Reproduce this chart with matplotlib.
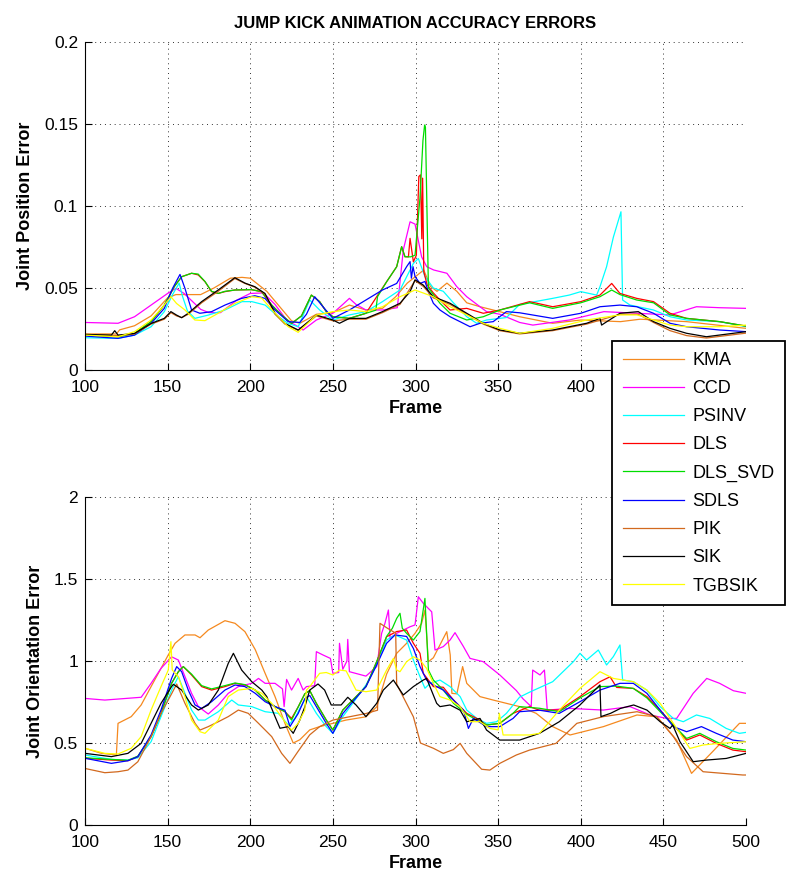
import matplotlib
matplotlib.use('Agg')
import matplotlib.pyplot as plt
from matplotlib import font_manager

# fuentes: intento la version "narrow" si esta instalada
nombres = set(f.name for f in font_manager.fontManager.ttflist)
fuente = 'Liberation Sans Narrow' if 'Liberation Sans Narrow' in nombres else 'Liberation Sans'
plt.rcParams['font.family'] = [fuente, 'DejaVu Sans']

""" 1. Datos: (frame, valor) leidos del grafico """
series = ['KMA', 'CCD', 'PSINV', 'DLS', 'DLS_SVD', 'SDLS', 'PIK', 'SIK', 'TGBSIK']
colores = ['#F5891F', '#FF00FF', '#00FFFF', '#FF0000', '#00DD00', '#0000FF', '#D2691E', '#000000', '#FFFF00']

x_ticks = [100, 150, 200, 250, 300, 350, 400, 450, 500]
y_ticks_pos = [0, 0.05, 0.1, 0.15, 0.2]
y_labels_pos = ['0', '0.05', '0.1', '0.15', '0.2']
y_ticks_ori = [0, 0.5, 1, 1.5, 2]
y_labels_ori = ['0', '0.5', '1', '1.5', '2']

# --- error de posicion ---
pos_kma = [(100,.022),(110,.022),(119,.022),(121,.0245),(130,.027),(140,.033),(150,.044),(155,.046),(160,.046),(170,.046),
           (178,.050),(188,.056),(195,.0565),(200,.056),(205,.052),(210,.048),(220,.036),(225,.030),(230,.0285),(240,.034),
           (250,.035),(260,.0396),(270,.0366),(280,.0376),(288,.0447),(295,.053),(300,.057),(305,.061),(309,.051),(313,.048),
           (319,.053),(325,.048),(331,.041),(339,.0386),(347,.0366),(363,.0325),(383,.0285),(400,.0305),(424,.0295),(436,.031),
           (464,.0295),(500,.0254)]
pos_ccd = [(100,.029),(120,.0285),(130,.0325),(140,.0396),(150,.0467),(155,.0498),(160,.0467),(170,.037),(175,.035),(182,.035),
           (192,.0427),(200,.0467),(208,.047),(215,.040),(222,.0305),(228,.027),(232,.0244),(240,.0305),(250,.0346),(256,.040),
           (260,.0437),(264,.040),(270,.0366),(280,.0366),(289,.038),(292.6,.0732),(296.7,.0904),(299.7,.089),(303.7,.069),
           (306.8,.063),(311,.061),(319,.059),(325,.0508),(331,.0447),(339,.0386),(343,.0356),(351,.034),(363,.029),(371,.0274),
           (393,.0305),(414,.0356),(434,.0346),(454,.0336),(470,.0386),(484,.038),(500,.0376)]
pos_psinv = [(100,.0197),(120,.0193),(130,.0213),(140,.0264),(148,.0356),(153,.046),(157,.053),(159,.045),(162,.036),(166.5,.0315),
             (174.6,.0335),(184.7,.0366),(195,.0417),(201,.0417),(209,.0396),(217,.0325),(223,.0284),(229,.0264),(231,.031),
             (236,.0427),(242,.0366),(250,.0305),(260,.0336),(270,.0356),(280,.0417),(290.6,.0488),(298.7,.065),(301.7,.068),
             (305.7,.057),(310.8,.050),(316.8,.048),(322.9,.041),(331,.0325),(337,.0285),(343,.0305),(355,.032),(363,.040),
             (383,.0437),(393,.0457),(400,.0478),(409.6,.0457),(411.6,.0508),(415.6,.063),(419.7,.081),(424.3,.0965),
             (425.3,.0427),(429.8,.0396),(444,.0366),(454,.0325),(464,.0305),(484,.0295),(500,.0264)]
pos_dls = [(100,.0213),(120,.0203),(130,.0223),(140,.0295),(148,.0396),(154,.0508),(158.5,.0569),(164.5,.059),(168.5,.058),
           (172.6,.0539),(176.6,.0478),(180.6,.0467),(184.7,.0478),(190.7,.0488),(200.8,.049),(206.8,.0478),(213,.0396),
           (219,.0335),(225,.0284),(231,.033),(237,.0457),(242,.0417),(246,.0356),(250,.0325),(260,.0315),(270,.0346),
           (276.5,.0447),(282.5,.0538),(288.6,.063),(291.6,.0752),(293.6,.0691),(295.7,.069),(296.7,.0803),(298.7,.066),
           (300.5,.070),(302,.118),(303,.119),(303.8,.080),(304.3,.117),(305,.060),(307,.052),(310.8,.047),(314.8,.0427),
           (320.9,.0366),(331,.0376),(341,.0346),(351,.0366),(369,.0417),(383,.0386),(400,.0417),(411.6,.0457),(418.7,.0528),
           (423.7,.0467),(433.8,.0437),(444,.0417),(454,.0346),(464,.0315),(484,.0295),(500,.0268)]
pos_svd = [(100,.0213),(120,.0203),(130,.0223),(140,.0295),(148,.0396),(154,.0508),(158.5,.0569),(164.5,.059),(168.5,.0585),
           (172.6,.054),(176.6,.048),(180.6,.0467),(184.7,.048),(190.7,.0488),(200.8,.049),(206.8,.0478),(213,.0396),
           (219,.0335),(225,.0284),(231,.033),(237,.0457),(242,.0417),(246,.0356),(250,.0325),(260,.0315),(270,.0346),
           (276,.0365),(277,.0447),(282.5,.0538),(288.6,.063),(291.6,.0752),(293.6,.0691),(297,.069),(299.7,.070),
           (302.7,.105),(304.5,.140),(305.5,.1494),(306,.148),(307.8,.050),(314.8,.0407),(320.9,.0346),(331,.0305),
           (341,.0325),(351,.0366),(369,.041),(383,.0376),(400,.041),(411.6,.0447),(418.7,.0488),(423.7,.046),
           (433.8,.0427),(444,.041),(454,.0336),(464,.0315),(484,.0295),(500,.0268)]
pos_sdls = [(100,.0207),(120,.0193),(130,.0213),(140,.0284),(148,.0376),(153,.0498),(157.5,.0583),(160.5,.0498),(164.5,.0366),
            (169.5,.0346),(176.6,.0356),(184.7,.0396),(194.8,.0437),(202.8,.0453),(208.9,.0437),(215,.0366),(223,.0295),
            (230,.029),(234,.034),(239,.0447),(244,.0386),(250,.0315),(260,.0366),(270,.0427),(280,.0488),(288.6,.0528),
            (294.6,.063),(296.7,.0661),(297.5,.056),(298.5,.063),(299.7,.057),(302.7,.0528),(305.7,.054),(307.8,.0478),
            (310.8,.0407),(314.8,.0366),(320.9,.0325),(326.9,.0295),(333,.0264),(339,.0285),(347,.0295),(355,.0356),
            (363,.0349),(383,.0315),(400,.0346),(411.6,.0386),(423.7,.0396),(433.8,.0386),(444,.0346),(454,.0285),
            (464,.0264),(484,.0244),(500,.0234)]
pos_pik = [(100,.0215),(120,.021),(130,.022),(140,.028),(148,.031),(152,.035),(155.4,.033),(158.5,.032),(162.5,.034),(170.6,.041),
           (180.6,.048),(190.7,.0558),(196.8,.0528),(202.8,.0505),(208.9,.0462),(215,.034),(221,.028),(229,.0242),(240,.033),
           (250,.030),(260,.031),(270,.031),(280,.035),(290.6,.040),(299.7,.0545),(304.7,.051),(310.8,.044),(320.9,.040),
           (331,.034),(341,.028),(351,.024),(363,.022),(383,.024),(403.5,.028),(423.7,.034),(434.8,.034),(444,.029),
           (454,.024),(464,.021),(476,.0195),(500,.0225)]
pos_sik = [(100,.0217),(116,.0213),(118,.024),(120,.0213),(130,.0223),(140,.0284),(148,.0315),(152,.0356),(155.4,.0335),
           (158.5,.0319),(162.5,.0346),(170.6,.0417),(180.6,.0488),(190.7,.0563),(196.8,.053),(202.8,.0508),(208.9,.0467),
           (215,.0346),(221,.0284),(229,.0244),(240,.0335),(250,.0305),(254,.0285),(260,.0315),(270,.0315),(280,.0356),
           (290.6,.0407),(296.7,.0478),(299.7,.055),(304.7,.0518),(310.8,.0447),(320.9,.0407),(331,.0346),(341,.0285),
           (351,.0244),(363,.0224),(383,.0244),(403.5,.0285),(411.6,.0315),(412.6,.0274),(415,.029),(423.7,.0346),
           (434.8,.0356),(444,.0295),(454,.0254),(464,.0224),(476,.0203),(500,.0234)]
pos_tgbsik = [(100,.0213),(120,.0203),(130,.0234),(140,.0305),(148,.0396),(152,.0447),(155.4,.0406),(160.5,.0366),(166.5,.0305),
              (172.6,.0301),(180.6,.0346),(190.7,.0406),(200.8,.0447),(206.8,.044),(215,.0346),(223,.0264),(229,.023),
              (240,.0335),(250,.0356),(260,.0366),(270,.0356),(280,.0386),(290.6,.0447),(299.7,.0488),(310.8,.0447),
              (320.9,.0386),(331,.0336),(341,.0285),(351,.0254),(363,.0224),(383,.0254),(403.5,.0305),(423.7,.0336),
              (434,.0336),(444,.0305),(454,.0274),(464,.0264),(484,.0264),(500,.0274)]

# --- error de orientacion ---
ori_kma = [(100,.468),(110,.437),(119,.427),(120,.62),(128,.661),(134,.732),(140,.844),(146,.955),(150.4,1.037),(154.5,1.108),
           (160.5,1.159),(166.6,1.159),(169.6,1.142),(174.6,1.189),(184.7,1.246),(190.8,1.23),(196.8,1.179),(203,1.07),
           (209,.925),(215,.783),(221,.62),(226,.50),(230,.52),(236,.58),(242,.60),(250,.62),(258,.64),(270,.66),(276.5,.72),
           (282.5,.92),(288.6,1.047),(294.6,1.108),(299.7,1.169),(303.7,1.23),(305.7,1.311),(307.8,.996),(310.8,1.02),
           (316.8,1.138),(318.9,1.179),(321,1.037),(322,.803),(325,.80),(328.5,.966),(331,.864),(339,.783),(347,.762),
           (363,.722),(373,.681),(383,.60),(393.5,.549),(413.7,.60),(434,.671),(446,.66),(458,.518),(467,.315),(480,.45),
           (496,.62),(500,.62)]
ori_ccd = [(100,.772),(112,.762),(134,.779),(140,.864),(146,.955),(152.4,1.026),(156.5,1.006),(160.5,.905),(164.5,.803),
           (168.6,.722),(174.6,.677),(180.7,.732),(186.7,.803),(192.8,.844),(200.9,.864),(205,.894),(209,.864),(215,.864),
           (219.5,.83),(220.5,.722),(222,.888),(225,.823),(229,.894),(232,.823),(234,.844),(239,.85),(240,1.057),(244,1.037),
           (248.5,1.016),(250,.925),(253.5,.93),(254,1.108),(256,.95),(258.5,1.0),(259,1.132),(260,.935),(270,.908),
           (276.5,.966),(279.5,1.169),(281.5,1.23),(283.6,1.311),(284.6,1.14),(288.6,1.169),(296.7,1.209),(299.7,1.22),
           (301.7,1.392),(304.7,1.352),(309.8,1.30),(311.8,1.067),(316.8,1.088),(320.9,1.128),(323.9,1.173),(329,1.088),
           (333,1.016),(341,.996),(351,.915),(361,.82),(365,.77),(370,.722),(370.9,.945),(375.3,.915),(378,.945),
           (379.7,.701),(393.5,.711),(413.6,.701),(429.8,.722),(441.9,.671),(452,.65),(458,.65),(468,.803),(476.2,.894),
           (484,.864),(492.3,.819),(500,.803)]
ori_psinv = [(100,.427),(116,.400),(126,.396),(132,.41),(140,.508),(146,.661),(152.4,.823),(156.5,.905),(160.5,.803),
             (164.5,.701),(168.6,.64),(172.6,.64),(180.7,.691),(188.8,.762),(192.8,.732),(200.9,.722),(209,.691),(217,.681),
             (223,.61),(227,.65),(230,.711),(234,.783),(240,.681),(246,.60),(250,.559),(256,.661),(262,.742),(270,.854),
             (276.5,.976),(282.5,1.128),(287.6,1.159),(294.6,1.128),(298.7,1.006),(302.7,.905),(305.7,.834),(308.8,.864),
             (314.8,.884),(320.9,.844),(327,.783),(331,.701),(337,.651),(343,.62),(349.1,.63),(355,.681),(363,.78),(369,.81),
             (383,.874),(395.5,.996),(399.5,1.047),(403.5,1.006),(410.6,1.067),(415.6,.976),(419.7,1.027),(423.7,1.098),
             (425.3,.884),(431.8,.874),(439.9,.823),(448,.722),(456,.65),(462,.63),(470,.671),(478,.65),(488,.589),
             (496,.559),(500,.565)]
ori_dls = [(100,.407),(116,.396),(126,.392),(132,.417),(140,.539),(146,.681),(152.4,.864),(156.5,.935),(159.5,.966),(164.5,.915),
           (170.6,.844),(176.6,.823),(184.7,.844),(190.8,.864),(196.8,.854),(203,.823),(209,.762),(215,.722),(221,.691),
           (225,.65),(229,.72),(233,.80),(236,.82),(240,.742),(246,.64),(250,.579),(256,.701),(262,.762),(270,.844),
           (276.5,.996),(282.5,1.148),(288.6,1.18),(294.6,1.189),(298.7,1.108),(302.7,1.047),(304.7,.925),(310.8,.844),
           (316.8,.84),(323,.762),(331,.681),(337,.65),(343,.61),(351,.62),(359,.681),(369,.722),(375,.70),(387,.701),
           (399.5,.783),(411.6,.874),(417.7,.904),(421.7,.839),(431.8,.833),(440,.783),(448,.701),(456,.61),(464,.518),
           (472,.549),(482,.498),(492,.457),(500,.447)]
ori_svd = [(100,.41),(116,.40),(126,.395),(132,.42),(140,.539),(146,.681),(152.4,.864),(156.5,.935),(159.5,.966),(164.5,.92),
           (170.6,.85),(176.6,.83),(184.7,.85),(190.8,.866),(196.8,.856),(203,.823),(209,.762),(215,.722),(221,.691),
           (225,.64),(229,.72),(233,.80),(236,.82),(240,.742),(246,.64),(250,.579),(256,.701),(262,.762),(270,.844),
           (276.5,.996),(282.5,1.15),(286,1.20),(288.6,1.26),(290.6,1.291),(292,1.20),(294.6,1.169),(298.7,1.128),
           (302.7,1.18),(305.7,1.382),(307.8,.945),(310.8,.884),(316.8,.823),(323,.742),(331,.675),(337,.64),(343,.61),
           (351,.62),(359,.681),(363,.722),(375,.712),(387,.691),(399.5,.775),(411.6,.844),(421.7,.847),(431.8,.833),
           (440,.775),(448,.691),(456,.61),(464,.528),(472,.559),(482,.508),(492,.467),(500,.457)]
ori_sdls = [(100,.407),(116,.376),(126,.392),(132,.417),(140,.549),(146,.701),(152.4,.894),(155.5,.966),(158.5,.935),
            (162.5,.823),(166.6,.732),(170.6,.711),(176.6,.752),(184.7,.823),(190.8,.854),(196.8,.844),(203,.803),(209,.752),
            (215,.722),(221,.70),(224,.60),(229,.68),(233,.77),(236,.79),(240,.722),(246,.62),(250,.559),(256,.68),
            (262,.752),(270,.844),(276.5,.976),(282.5,1.108),(287.6,1.159),(294.6,1.15),(298.7,1.077),(302.7,.966),
            (306.7,.884),(310.8,.854),(316.8,.823),(323,.762),(329,.701),(332,.589),(335,.65),(343,.60),(351,.60),
            (359,.65),(363,.691),(375,.70),(387,.681),(399.5,.752),(411.6,.823),(423.7,.864),(431.8,.864),(440,.803),
            (448,.701),(456,.60),(464,.569),(473,.60),(482,.559),(492,.518),(500,.508)]
ori_pik = [(100,.345),(112,.319),(120,.325),(126,.335),(132,.386),(140,.539),(146,.681),(152.4,.80),(155.5,.86),(160.5,.742),
           (166.6,.62),(169.6,.579),(174.6,.60),(180.7,.63),(186.7,.661),(192.8,.701),(198.8,.681),(205,.62),(213,.539),
           (219,.437),(224,.376),(229,.45),(236,.55),(242,.60),(250,.64),(260,.66),(270,.68),(277,.70),(278.5,1.23),
           (283,1.20),(288,1.17),(288.6,.86),(292.6,.78),(298.7,.66),(303,.50),(310.8,.468),(316.8,.437),(322.9,.46),
           (327,.498),(331,.437),(340,.34),(345,.335),(351,.376),(361,.427),(369,.457),(385,.498),(397.6,.62),
           (413.7,.661),(434,.691),(446,.661),(456,.539),(464,.417),(474,.325),(498,.305),(500,.305)]
ori_sik = [(100,.437),(116,.417),(126,.437),(134,.498),(140,.62),(146,.742),(152.4,.844),(153.5,.858),(158.5,.823),(164.5,.732),
           (168.6,.701),(174.6,.732),(180.7,.823),(186.7,.986),(189.8,1.047),(194.8,.945),(200.9,.874),(207,.823),(210,.783),
           (215,.661),(218,.59),(223,.60),(226,.559),(230,.64),(233,.72),(236,.823),(241,.86),(245,.823),(249,.732),
           (255,.732),(259,.779),(264,.732),(270,.661),(276.5,.742),(280.5,.823),(286.6,.884),(292.6,.793),(298.7,.844),
           (304.7,.884),(306.7,.894),(312.8,.742),(314.8,.722),(320.9,.732),(327,.70),(331,.63),(339,.65),(343,.579),
           (351,.518),(363,.518),(375,.559),(387,.63),(399.5,.732),(411.6,.854),(412.2,.661),(418,.681),(424,.711),
           (432,.732),(440,.701),(448,.63),(454,.589),(455.6,.61),(460,.508),(468,.386),(476,.396),(488,.406),(500,.437)]
ori_tgbsik = [(100,.468),(112,.437),(120,.433),(128,.468),(134,.539),(140,.701),(146,.844),(150.4,.945),(152,1.118),(152.8,.945),
              (156.5,.905),(160.5,.783),(164.5,.64),(169.6,.569),(172.6,.559),(180.7,.64),(186.7,.783),(192.8,.823),
              (200.9,.833),(207,.803),(213,.742),(221,.63),(225,.579),(229,.62),(233,.70),(234,.823),(236,.844),(242,.925),
              (246,.93),(250,.915),(254,.945),(258,.94),(264,.823),(270,.813),(276.5,.823),(282.5,.945),(286.6,1.016),
              (288.6,.945),(290.6,.935),(294.6,.996),(298.7,1.026),(302.7,1.006),(306.7,.955),(310.8,.864),(314.8,.783),
              (320.9,.762),(327,.722),(333,.63),(339,.63),(345,.589),(350,.58),(350.7,.681),(353,.549),(369,.549),
              (375,.559),(387,.701),(399.5,.833),(411.6,.935),(419.7,.894),(431.8,.874),(440,.823),(448,.742),(456,.62),
              (466,.467),(474,.488),(484,.498),(500,.508)]

datos_pos = [pos_kma, pos_ccd, pos_psinv, pos_dls, pos_svd, pos_sdls, pos_pik, pos_sik, pos_tgbsik]
datos_ori = [ori_kma, ori_ccd, ori_psinv, ori_dls, ori_svd, ori_sdls, ori_pik, ori_sik, ori_tgbsik]

""" 2. Figura """
fig = plt.figure(figsize=(7.86, 8.76), dpi=100)
ax1 = fig.add_axes([0.1081, 0.5776, 0.8411, 0.3744])
ax2 = fig.add_axes([0.1081, 0.0582, 0.8411, 0.3744])


def estilo(ax, yt, yl, ylabel):
    ax.set_xlim(100, 500)
    ax.set_xticks(x_ticks)
    ax.set_xticklabels([str(t) for t in x_ticks])
    ax.set_ylim(yt[0], yt[-1])
    ax.set_yticks(yt)
    ax.set_yticklabels(yl)
    ax.tick_params(direction='in', length=5, width=0.8, labelsize=12.5, top=False, right=False)
    ax.tick_params(axis='x', pad=7.5)
    ax.tick_params(axis='y', pad=5)
    ax.spines['top'].set_visible(False)
    ax.spines['right'].set_visible(False)
    ax.grid(True, color='black', linestyle=(0, (1, 4)), linewidth=0.7, alpha=0.8)
    ax.set_xlabel('Frame', fontsize=13, fontweight='bold', labelpad=3)
    ax.set_ylabel(ylabel, fontsize=13, fontweight='bold', labelpad=7)


lineas = []
for datos, ax in ((datos_pos, ax1), (datos_ori, ax2)):
    for nombre, color, d in zip(series, colores, datos):
        xs = [p[0] for p in d]
        ys = [p[1] for p in d]
        l, = ax.plot(xs, ys, color=color, linewidth=0.9, label=nombre)
        if ax is ax1:
            lineas.append(l)

estilo(ax1, y_ticks_pos, y_labels_pos, 'Joint Position Error')
estilo(ax2, y_ticks_ori, y_labels_ori, 'Joint Orientation Error')

# la leyenda tapa el 450 del grafico de arriba (como en el original)
ax1.get_xticklabels()[7].set_visible(False)

ax1.set_title('JUMP KICK ANIMATION ACCURACY ERRORS', fontsize=12, fontweight='bold', pad=10)

leg = fig.legend(lineas, series, loc='upper left', bbox_to_anchor=(612 / 786, 1 - 341 / 876),
                 borderaxespad=0, handlelength=3.4, handletextpad=0.45,
                 labelspacing=0.62, borderpad=0.6, fancybox=False, framealpha=1,
                 prop={'family': ['Liberation Sans', 'DejaVu Sans'], 'size': 13})
leg.get_frame().set_edgecolor('black')
leg.get_frame().set_linewidth(1.3)

fig.savefig('out.png', dpi=100)
